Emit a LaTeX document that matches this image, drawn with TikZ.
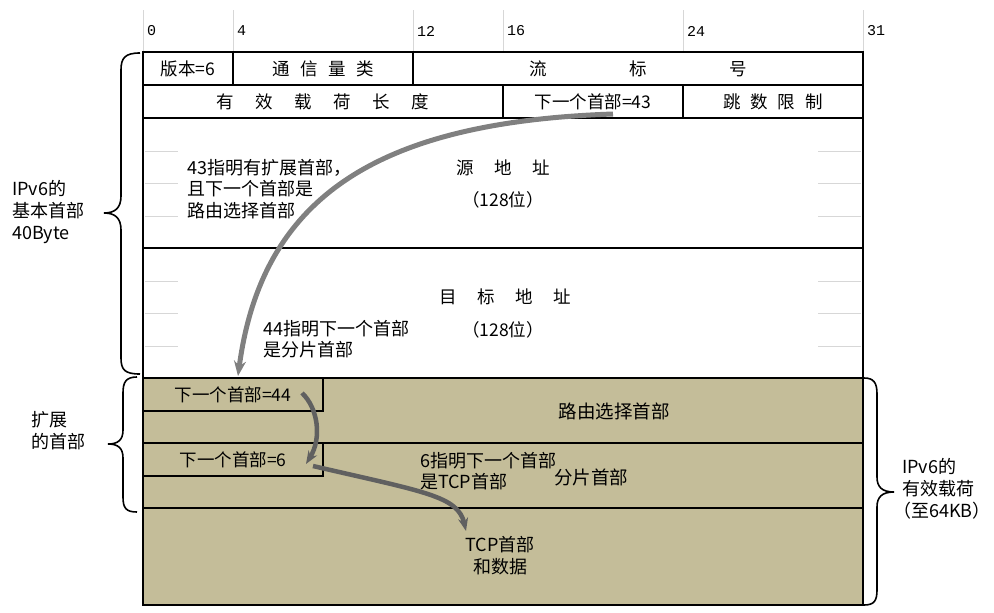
\documentclass[tikz,border=0pt]{standalone}
\usepackage{fontspec}
\setmainfont{Noto Sans CJK SC}
\newfontfamily\monof{Liberation Mono}
\usetikzlibrary{arrows.meta}
\definecolor{khaki}{RGB}{196,189,153}
\definecolor{arrgray}{RGB}{128,128,128}
\definecolor{darkarr}{RGB}{96,96,96}
\definecolor{tickgray}{RGB}{215,215,215}
\begin{document}
\begin{tikzpicture}[x=1pt,y=-1pt,
  cell/.style={draw=black, line width=1.2pt, inner sep=0pt, font=\fontsize{17.5}{20}\selectfont},
  ext/.style={cell, fill=khaki},
  txt/.style={inner sep=0pt, font=\fontsize{17.5}{20}\selectfont},
  big/.style={inner sep=0pt, font=\fontsize{18.5}{22}\selectfont},
  lbl/.style={inner sep=0pt, align=left, anchor=west, font=\fontsize{18}{22}\selectfont},
  note/.style={inner sep=0pt, align=left, anchor=west, font=\fontsize{18}{21.5}\selectfont},
  bit/.style={inner sep=0pt, anchor=west, font=\monof\fontsize{15}{15}\selectfont},
  tick/.style={draw=tickgray, line width=1pt},
  flow/.style={draw=arrgray, line width=5pt, -{Stealth[length=15pt,width=12pt]}},
  flowd/.style={draw=darkarr, line width=4.5pt, -{Stealth[length=13pt,width=10pt]}},
  brc/.style={draw=black, line width=1.6pt}
]
\useasboundingbox (0,0) rectangle (994,613);
% bit ruler
\foreach \x/\b in {143/0,233/4,413/12,503/16,683/24,863/31}{
  \draw[tick] (\x,10) -- (\x,52);
  \node[bit] (bit\b) at (\x+4,31) {\b};
}
% row 1
\node[cell, minimum width=90pt, minimum height=33pt] (ver) at (188,68.5) {版本=6};
\node[cell, minimum width=180pt, minimum height=33pt] (tc) at (323,68.5) {通\hspace{10.5pt}信\hspace{10.5pt}量\hspace{10.5pt}类};
\node[cell, minimum width=450pt, minimum height=33pt] (fl) at (638,68.5) {流\hspace{82.5pt}标\hspace{82.5pt}号};
% row 2
\node[cell, minimum width=360pt, minimum height=33pt] (len) at (323,101.5) {有\hspace{21.5pt}效\hspace{21.5pt}载\hspace{21.5pt}荷\hspace{21.5pt}长\hspace{21.5pt}度};
\node[cell, minimum width=180pt, minimum height=33pt] (nh) at (593,101.5) {下一个首部=43};
\node[cell, minimum width=180pt, minimum height=33pt] (hop) at (773,101.5) {跳\hspace{10pt}数\hspace{10pt}限\hspace{10pt}制};
% addresses
\node[cell, minimum width=720pt, minimum height=130pt] (src) at (503,183) {};
\node[cell, minimum width=720pt, minimum height=130pt] (dst) at (503,313) {};
\foreach \y in {151,183,216,281,313,346}{
  \draw[tick] (145,\y) -- (178,\y);
  \draw[tick] (818,\y) -- (861,\y);
}
\node[txt] (srct) at (503,168) {源\hspace{20.5pt}地\hspace{20.5pt}址};
\node[txt] (srcb) at (503,200) {（128位）};
\node[txt] (dstt) at (505,297) {目\hspace{20.5pt}标\hspace{20.5pt}地\hspace{20.5pt}址};
\node[txt] (dstb) at (503,330) {（128位）};
% extension headers and payload
\node[ext, minimum width=720pt, minimum height=65pt] (rt) at (503,410.5) {};
\node[ext, minimum width=720pt, minimum height=65pt] (fr) at (503,475.5) {};
\node[ext, minimum width=720pt, minimum height=97pt] (tcp) at (503,556.5) {};
\node[ext, minimum width=180pt, minimum height=33pt] (nh44) at (233,394.5) {下一个首部=44};
\node[ext, minimum width=180pt, minimum height=33pt] (nh6) at (233,459.5) {下一个首部=6};
\node[big] (rtt) at (614,411) {路由选择首部};
\node[big] (frt) at (591,477) {分片首部};
\node[big, align=center, font=\fontsize{18}{22}\selectfont] (tcpt) at (500,556) {TCP首部\\和数据};
% outer frame
\draw[line width=2.2pt] (143,52) rectangle (863,605);
% notes
\node[note] (n43) at (187,189) {43指明有扩展首部，\\且下一个首部是\\路由选择首部};
\node[note] (n44) at (263,339) {44指明下一个首部\\是分片首部};
\node[note] (n6) at (420,471) {6指明下一个首部\\是TCP首部};
% arrows
\coordinate (a1s) at (613,114);
\coordinate (a1e) at (238,376);
\coordinate (a2s) at (302,393);
\coordinate (a2e) at (306,464);
\coordinate (a3s) at (313,466);
\coordinate (a3e) at (466,531);
\draw[flow] (a1s) .. controls (380,122) and (262,195) .. (a1e);
\draw[flowd] (a2s) .. controls (318,408) and (322,438) .. (a2e);
\draw[flowd] (a3s) .. controls (425,492) and (458,496) .. (a3e);
% braces
\draw[brc] (140,53) .. controls (125,53) and (121,58) .. (121,70) -- (121,196)
  .. controls (121,208) and (115,213) .. (104,213)
  .. controls (115,213) and (121,218) .. (121,230) -- (121,358)
  .. controls (121,370) and (125,374) .. (140,374);
\draw[brc] (137,377) .. controls (126,377) and (123,382) .. (123,393) -- (123,430)
  .. controls (123,440) and (118,444) .. (108,444)
  .. controls (118,444) and (123,448) .. (123,458) -- (123,497)
  .. controls (123,508) and (126,512) .. (137,512);
\draw[brc] (864,378) .. controls (874,378) and (877,383) .. (877,394) -- (877,477)
  .. controls (877,487) and (882,492) .. (894,492)
  .. controls (882,492) and (877,497) .. (877,507) -- (877,590)
  .. controls (877,601) and (874,605) .. (864,605);
% side labels
\node[lbl] (basic) at (12,212) {IPv6的\\基本首部\\40Byte};
\node[lbl] (extl) at (31,431) {扩展\\的首部};
\node[lbl] (pay) at (902,489) {IPv6的\\有效载荷\\{\addfontfeature{RawFeature=+halt}（}至64KB{\addfontfeature{RawFeature=+halt}）}};
\end{tikzpicture}
\end{document}
